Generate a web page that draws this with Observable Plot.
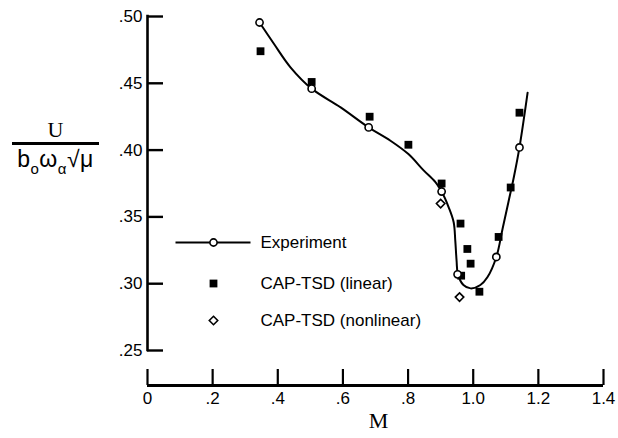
<!DOCTYPE html>
<html>
<head>
<meta charset="utf-8">
<script src="https://cdn.jsdelivr.net/npm/d3@7"></script>
<script src="https://cdn.jsdelivr.net/npm/@observablehq/plot@0.6"></script>
<style>
  body { margin: 0; background: #fff; }
  #wrap { position: relative; width: 618px; height: 438px; overflow: hidden; }
  #ylab { position: absolute; left: 12px; top: 118px; width: 87px; text-align: center; color: #000; }
  #ylab .num { font-family: "Liberation Serif", "DejaVu Serif", serif; font-size: 22px; line-height: 24px; border-bottom: 3px solid #000; }
  #ylab .den { font-family: "Liberation Sans", Arial, sans-serif; font-size: 23px; line-height: 29px; white-space: nowrap; letter-spacing: 0.5px; }
  #ylab sub { font-size: 15px; vertical-align: -7px; line-height: 0; }
  g[aria-label="legend"] text { letter-spacing: 1px; }
</style>
</head>
<body>
<div id="wrap">
  <div id="ylab"><div class="num">U</div><div class="den">b<sub>o</sub>ω<sub>α</sub>√μ</div></div>
</div>
<script>
// ---- tick values / labels ----
const xTicks = [0, 0.2, 0.4, 0.6, 0.8, 1.0, 1.2, 1.4];
const xTickLabels = ["0", ".2", ".4", ".6", ".8", "1.0", "1.2", "1.4"];
const yTicks = [0.25, 0.30, 0.35, 0.40, 0.45, 0.50];
const yTickLabels = [".25", ".30", ".35", ".40", ".45", ".50"];

// ---- Experiment (open circles) ----
const expM = [0.344, 0.504, 0.679, 0.903, 0.952, 1.071, 1.142];
const expU = [0.4955, 0.446, 0.417, 0.369, 0.307, 0.320, 0.402];

// ---- faired experiment curve ----
const fairM = [0.344, 0.387, 0.439, 0.504, 0.593, 0.679, 0.746, 0.801, 0.847, 0.884, 0.903, 0.925, 0.940, 0.945, 0.949, 0.953, 0.970, 0.992, 1.022, 1.044, 1.071, 1.090, 1.108, 1.125, 1.142, 1.167];
const fairU = [0.4955, 0.480, 0.462, 0.446, 0.432, 0.417, 0.407, 0.397, 0.385, 0.376, 0.369, 0.357, 0.346, 0.332, 0.317, 0.307, 0.299, 0.2965, 0.299, 0.305, 0.320, 0.341, 0.361, 0.380, 0.402, 0.443];

// ---- CAP-TSD (linear) (filled squares) ----
const linM = [0.347, 0.504, 0.682, 0.801, 0.903, 0.961, 0.982, 0.992, 0.963, 1.019, 1.078, 1.115, 1.142];
const linU = [0.474, 0.451, 0.425, 0.404, 0.375, 0.345, 0.326, 0.315, 0.306, 0.294, 0.335, 0.372, 0.428];

// ---- CAP-TSD (nonlinear) (open diamonds) ----
const nonM = [0.900, 0.958];
const nonU = [0.360, 0.290];

const legendLabels = ["Experiment", "CAP-TSD (linear)", "CAP-TSD (nonlinear)"];

const zip = (ms, us) => ms.map((m, i) => ({M: m, U: us[i]}));
const expData = zip(expM, expU);
const fairData = zip(fairM, fairU);
const linData = zip(linM, linU);
const nonData = zip(nonM, nonU);

// ---- layout ----
const W = 618, H = 438;
const mL = 147, mR = 15, mT = 16, mB = 53;
const yBottom = 350;               // pixel row of U = .25
const frameW = W - mL - mR;
const frameH = H - mT - mB;
const sans = '"Liberation Sans", Arial, Helvetica, sans-serif';
const serif = '"Liberation Serif", "Times New Roman", serif';

const lineSym = { draw(ctx) { ctx.moveTo(-38, 0); ctx.lineTo(37, 0); } };
const rowDy = [226, 267, 304];
const symDx = 66, textDx = 113;

const chart = Plot.plot({
  width: W, height: H,
  marginLeft: mL, marginRight: mR, marginTop: mT, marginBottom: mB,
  style: { fontFamily: sans, fontSize: "17px", color: "#000", background: "#fff", overflow: "visible" },
  x: { domain: [0, 1.4] },
  y: { domain: [0.25, 0.5], range: [yBottom, mT] },
  marks: [
    // y axis
    Plot.ruleX([0], { y1: 0.25, y2: 0.5, strokeWidth: 2.6, strokeLinecap: "square" }),
    Plot.tickY(yTicks, { y: d => d, insetRight: frameW - 16, strokeWidth: 2.4 }),
    Plot.axisY(yTicks, { tickSize: 0, tickPadding: 5, fontSize: 17, label: null,
      tickFormat: d => yTickLabels[yTicks.indexOf(d)] }),
    // x axis (detached, below)
    Plot.ruleY([0.25], { dy: H - mB - yBottom, strokeWidth: 2.8 }),
    Plot.tickX(xTicks, { x: d => d, insetTop: frameH - 16, strokeWidth: 2.2 }),
    Plot.axisX(xTicks, { tickSize: 0, tickPadding: 6, fontSize: 17, label: null,
      tickFormat: d => xTickLabels[xTicks.indexOf(d)] }),
    Plot.text(["M"], { frameAnchor: "bottom", dx: 3, dy: 42, fontFamily: serif, fontSize: 22 }),
    // data
    Plot.line(fairData, { x: "M", y: "U", curve: "catmull-rom", stroke: "#000", strokeWidth: 2 }),
    Plot.dot(linData, { x: "M", y: "U", symbol: "square", r: 4.4, fill: "#000", stroke: "none" }),
    Plot.dot(nonData, { x: "M", y: "U", symbol: "diamond2", r: 3.8, fill: "#fff", stroke: "#000", strokeWidth: 1.6 }),
    Plot.dot(expData, { x: "M", y: "U", symbol: "circle", r: 3.6, fill: "#fff", stroke: "#000", strokeWidth: 1.6 }),
    // legend
    Plot.dot([0], { frameAnchor: "top-left", dx: symDx, dy: rowDy[0], symbol: lineSym, fill: "none", stroke: "#000", strokeWidth: 2 }),
    Plot.dot([0], { frameAnchor: "top-left", dx: symDx, dy: rowDy[0], symbol: "circle", r: 3.6, fill: "#fff", stroke: "#000", strokeWidth: 1.6 }),
    Plot.dot([0], { frameAnchor: "top-left", dx: symDx, dy: rowDy[1], symbol: "square", r: 4.4, fill: "#000", stroke: "none" }),
    Plot.dot([0], { frameAnchor: "top-left", dx: symDx, dy: rowDy[2], symbol: "diamond2", r: 3.8, fill: "#fff", stroke: "#000", strokeWidth: 1.6 }),
    ...legendLabels.map((t, i) => Plot.text([t], { frameAnchor: "top-left", dx: textDx, dy: rowDy[i],
      textAnchor: "start", lineAnchor: "middle", fontSize: 17, ariaLabel: "legend" }))
  ]
});
document.getElementById("wrap").prepend(chart);
</script>
</body>
</html>
